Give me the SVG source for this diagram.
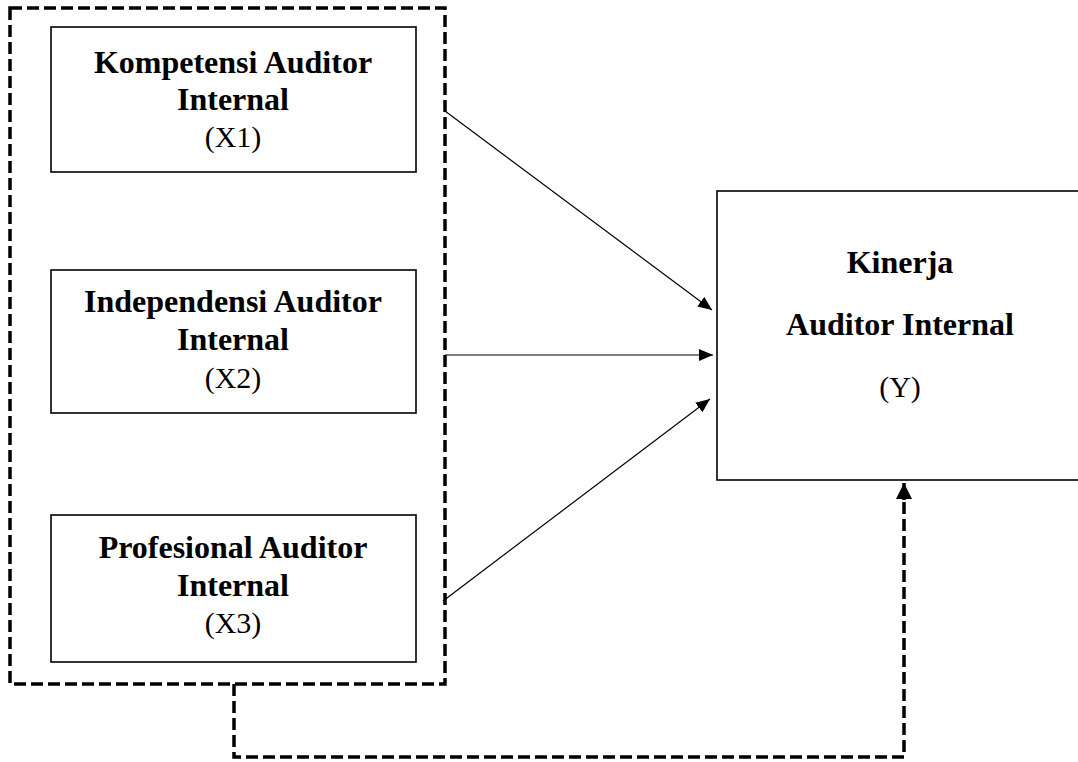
<svg xmlns="http://www.w3.org/2000/svg" width="1078" height="762" viewBox="0 0 1078 762">
<style>
.box{fill:#fff;stroke:#000;stroke-width:1.6}
.dash{fill:none;stroke:#000;stroke-width:3.5;stroke-dasharray:12 5}
.conn{stroke:#000;stroke-width:1.2;fill:none}
.b{font-family:"Liberation Serif","Times New Roman",serif;font-weight:bold;font-size:32px;text-anchor:middle;fill:#000}
.r{font-family:"Liberation Serif","Times New Roman",serif;font-size:30px;text-anchor:middle;fill:#000}
</style>
<defs>
<marker id="ah" viewBox="0 0 14 12" refX="14" refY="6" markerWidth="14" markerHeight="12" markerUnits="userSpaceOnUse" orient="auto">
<path d="M0,0 L14,6 L0,12 Z" fill="#000"/>
</marker>
<marker id="ahd" viewBox="0 0 14 14" refX="14" refY="7" markerWidth="16" markerHeight="16" markerUnits="userSpaceOnUse" orient="auto">
<path d="M0,0 L14,7 L0,14 Z" fill="#000"/>
</marker>
</defs>
<rect width="1078" height="762" fill="#fff"/>
<g id="group-x">
<rect class="dash" x="10" y="8" width="435" height="676"/>
</g>
<g id="connectors">
<line class="conn" x1="445" y1="111" x2="712" y2="310" marker-end="url(#ah)"/>
<line class="conn" x1="445" y1="355" x2="713" y2="355" marker-end="url(#ah)"/>
<line class="conn" x1="443" y1="601" x2="710" y2="399" marker-end="url(#ah)"/>
<path class="dash" d="M234,684 V757 H904 V496"/>
<line x1="904" y1="500" x2="904" y2="483" stroke="#000" stroke-width="3.5" marker-end="url(#ahd)"/>
</g>
<g id="x1">
<rect class="box" x="51" y="27" width="365" height="145"/>
<text class="b" x="233" y="73">Kompetensi Auditor</text>
<text class="b" x="233" y="110">Internal</text>
<text class="r" x="233" y="147">(X1)</text>
</g>
<g id="x2">
<rect class="box" x="51" y="270" width="365" height="143"/>
<text class="b" x="233" y="312">Independensi Auditor</text>
<text class="b" x="233" y="350">Internal</text>
<text class="r" x="233" y="388">(X2)</text>
</g>
<g id="x3">
<rect class="box" x="51" y="515" width="365" height="147"/>
<text class="b" x="233" y="558">Profesional Auditor</text>
<text class="b" x="233" y="596">Internal</text>
<text class="r" x="233" y="633">(X3)</text>
</g>
<g id="y">
<rect class="box" x="717" y="191" width="380" height="289"/>
<text class="b" x="900" y="273">Kinerja</text>
<text class="b" x="900" y="335">Auditor Internal</text>
<text class="r" x="900" y="397">(Y)</text>
</g>
</svg>
